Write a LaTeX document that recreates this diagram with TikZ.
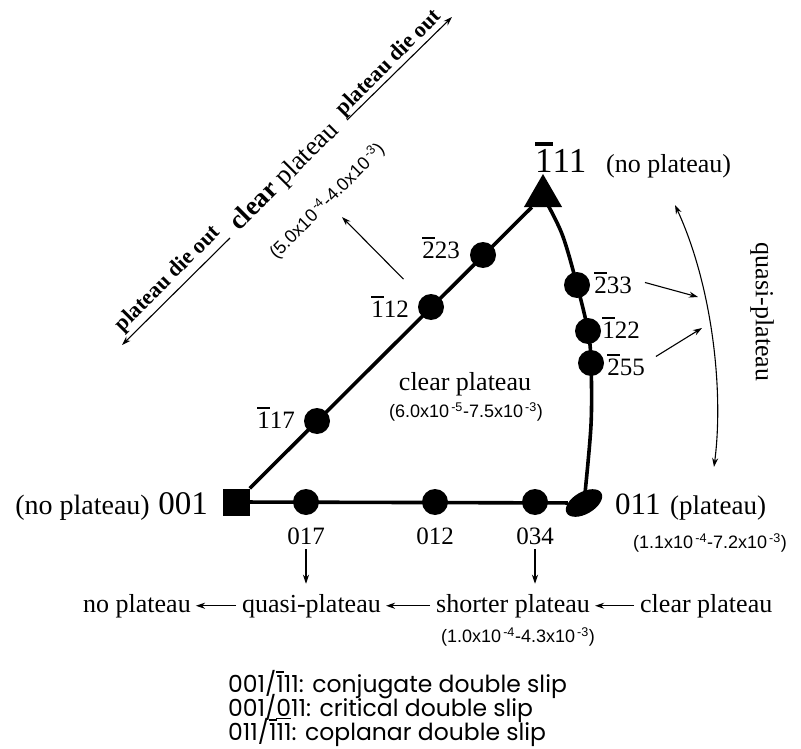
\documentclass[tikz,border=0pt]{standalone}
\usepackage{fontspec}
\setmainfont{Liberation Serif}
\newfontfamily\rangefont{Liberation Sans}
\newfontfamily\legendfont{Poppins}
\usetikzlibrary{arrows.meta,shapes.geometric}
\newcommand\ob[1]{\vbox{\hrule height 0.11em\kern 0.08em\hbox{#1}}}
\newcommand\obthin[1]{\vbox{\hrule height 0.06em\kern 0.1em\hbox{#1}}}
\newcommand\ubthin[1]{\vtop{\hbox{#1}\kern 0.08em\hrule height 0.06em}}
\newcommand\rng[4]{(#1x10\textsuperscript{\,-#2}-#3x10\textsuperscript{\,-#4})}
\begin{document}
\begin{tikzpicture}[x=1pt,y=-1pt,
  dot/.style={circle,fill,inner sep=0pt,minimum size=26pt},
  idx/.style={font=\fontsize{25}{25}\selectfont,inner sep=0pt,anchor=base},
  bigidx/.style={font=\fontsize{33}{33}\selectfont,inner sep=0pt},
  txt/.style={font=\fontsize{26}{26}\selectfont,inner sep=0pt},
  rangelbl/.style={font=\rangefont\fontsize{18}{18}\selectfont,inner sep=0pt},
  bandtxt/.style={font=\fontsize{22}{22}\selectfont\bfseries,inner sep=0pt,rotate=45},
  legend/.style={font=\legendfont\fontsize{23.5}{25}\selectfont,inner sep=0pt,anchor=base west},
  mainline/.style={line width=3.6pt},
  arr/.style={line width=1.1pt,-{Stealth[length=9pt,width=6pt]}},
  dblarr/.style={line width=1.1pt,{Stealth[length=9pt,width=6pt]}-{Stealth[length=9pt,width=6pt]}}]
\useasboundingbox (0,0) rectangle (801,749);

% poles
\node[rectangle,fill,inner sep=0pt,minimum size=27pt] (sq) at (236,502) {};
\node[regular polygon,regular polygon sides=3,fill,inner sep=0pt,minimum size=44pt] (tri) at (543,196) {};
\node[ellipse,fill,inner sep=0pt,minimum width=40pt,minimum height=22pt,rotate=30] (e011) at (584,503) {};

% dots
\node[dot] (c117) at (317,421) {};
\node[dot] (c112) at (431,307) {};
\node[dot] (c223) at (483,255) {};
\node[dot] (c017) at (306,502) {};
\node[dot] (c012) at (435,502) {};
\node[dot] (c034) at (535,502) {};
\node[dot] (c233) at (577,285) {};
\node[dot] (c122) at (588,331) {};
\node[dot] (c255) at (591,363) {};
\coordinate (m0) at (562,234);
\coordinate (m1) at (591,425);

% boundary lines
\draw[mainline] (sq) -- (tri);
\draw[mainline] (sq) -- (e011);
\draw[mainline] plot[smooth,tension=0.55] coordinates {(tri.center) (m0) (c233.center) (c122.center) (c255.center) (m1) (e011.center)};

% dot labels
\node[idx] (l223) at (441,258) {\ob{2}23};
\node[idx] (l112) at (390,317) {\ob{1}12};
\node[idx] (l117) at (276,428) {\ob{1}17};
\node[idx] (l233) at (613,293) {\ob{2}33};
\node[idx] (l122) at (621,338) {\ob{1}22};
\node[idx] (l255) at (626,375) {\ob{2}55};
\node[idx] (l017) at (306,544) {017};
\node[idx] (l012) at (435,544) {012};
\node[idx] (l034) at (535,544) {034};

% pole labels
\node[bigidx,anchor=base east] (l001) at (208,514) {001};
\node[txt,font=\fontsize{28}{28}\selectfont,anchor=base east] (np001) at (150,514) {(no plateau)};
\node[bigidx,font=\fontsize{31}{31}\selectfont,anchor=base west] (l011) at (615,514) {011};
\node[txt,font=\fontsize{27}{27}\selectfont,anchor=base west] (p011) at (670,514) {(plateau)};
\node[rangelbl] (r011) at (710,543) {\rng{1.1}{4}{7.2}{3}};
\node[bigidx,font=\fontsize{35}{35}\selectfont,anchor=base west] (l111) at (535,172) {\ob{1}11};
\node[txt,anchor=base west] (np111) at (606,172) {(no plateau)};

% interior
\node[txt,anchor=base] (cp) at (465,390) {clear plateau};
\node[rangelbl] (rcp) at (466,412) {\rng{6.0}{5}{7.5}{3}};

% quasi-plateau on the right
\node[txt,rotate=-90] (qpr) at (762,312) {quasi-plateau};
\coordinate (qa) at (675,205);
\coordinate (qb) at (714,467);
\draw[dblarr] (qa) .. controls (712,285) and (724,390) .. (qb);
\coordinate (t233) at (698,297);
\coordinate (t255) at (702,328);
\draw[arr] ([xshift=13pt]l233.east) -- (t233);
\draw[arr] ([xshift=11pt,yshift=8pt]l255.east) -- (t255);

% upper-left band
\coordinate (t112) at (342,217);
\draw[arr,shorten <=26pt] (c112) -- (t112);
\coordinate (la1) at (230,238);
\coordinate (la2) at (122,345);
\coordinate (ua1) at (347,120);
\coordinate (ua2) at (452,17);
\draw[arr] (la1) -- (la2);
\draw[arr] (ua1) -- (ua2);
\node[bandtxt] (bt1) at (168,279) {plateau die out};
\node[font=\fontsize{27}{27}\selectfont,inner sep=0pt,rotate=45] (bt2) at (285,177) {\textbf{clear} plateau};
\node[bandtxt] (bt3) at (389,63) {plateau die out};
\node[rangelbl,rotate=45] (rband) at (327,201) {\rng{5.0}{4}{4.0}{3}};

% bottom row
\node[txt,anchor=base west] (nrow1) at (83,612) {no plateau};
\node[txt,anchor=base west] (nrow2) at (242,612) {quasi-plateau};
\node[txt,anchor=base west] (nrow3) at (436,612) {shorter plateau};
\node[txt,anchor=base west] (nrow4) at (640,612) {clear plateau};
\node[rangelbl] (rsp) at (518,637) {\rng{1.0}{4}{4.3}{3}};
\draw[arr] ([xshift=-6pt]nrow2.west) -- ([xshift=5pt]nrow1.east);
\draw[arr] ([xshift=-6pt]nrow3.west) -- ([xshift=5pt]nrow2.east);
\draw[arr] ([xshift=-6pt]nrow4.west) -- ([xshift=5pt]nrow3.east);
\draw[arr] ([yshift=-5pt]l017.south) -- ([yshift=10pt]l017.south |- nrow2.north);
\draw[arr] ([yshift=-5pt]l034.south) -- ([yshift=10pt]l034.south |- nrow3.north);

% legend
\node[legend] (lg1) at (228,692) {001/\obthin{1}11: conjugate double slip};
\node[legend] (lg2) at (228,716) {001/\ubthin{0}11: critical double slip};
\node[legend] (lg3) at (228,740) {011/\obthin{1}11: coplanar double slip};
\end{tikzpicture}
\end{document}
